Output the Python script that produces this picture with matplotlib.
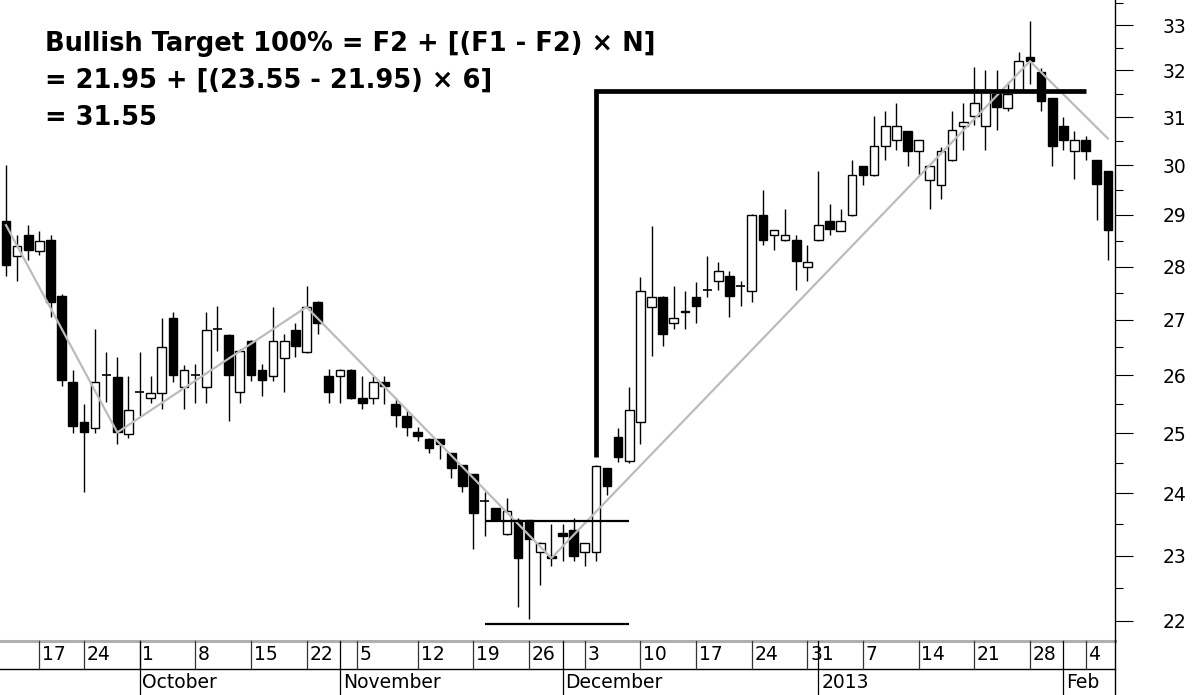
import matplotlib
matplotlib.use("Agg")
import matplotlib.pyplot as plt
from matplotlib.ticker import FixedLocator, FuncFormatter, NullFormatter
from matplotlib.transforms import blended_transform_factory

# daily candles (one entry per trading day)
opens = [28.88, 28.21, 28.61, 28.30, 28.51, 27.44, 25.89, 25.19, 25.09, 26.00,
         25.98, 24.99, 25.70, 25.60, 25.69, 27.03, 25.80, 26.00, 25.80, 26.84,
         26.73, 25.70, 26.62, 26.10, 25.99, 26.31, 26.82, 26.42, 27.33, 25.99,
         25.99, 26.10, 25.60, 25.60, 25.89, 25.50, 25.30, 25.01, 24.90, 24.90,
         24.66, 24.47, 24.31, 23.87, 23.75, 23.34, 23.56, 23.56, 23.05, 23.00,
         23.35, 23.41, 23.05, 23.05, 24.41, 24.93, 24.53, 25.19, 27.24, 27.42,
         26.94, 27.15, 27.42, 27.55, 27.73, 27.82, 27.63, 27.53, 29.00, 28.61,
         28.51, 28.51, 27.99, 28.51, 28.88, 28.69, 29.00, 29.99, 29.79, 30.40,
         30.51, 30.70, 30.29, 29.69, 29.59, 30.10, 30.81, 31.02, 30.81, 31.49,
         31.19, 31.58, 32.29, 31.97, 31.40, 30.81, 30.29, 30.51, 30.10, 29.89]
highs = [30.00, 28.61, 28.80, 28.69, 28.61, 27.49, 26.09, 25.50, 26.83, 26.42,
         26.32, 25.99, 26.42, 25.99, 27.03, 27.14, 26.19, 26.21, 27.14, 27.25,
         26.75, 26.47, 26.64, 26.20, 27.24, 26.75, 26.94, 27.64, 27.35, 26.11,
         26.12, 26.12, 25.99, 25.99, 25.99, 25.60, 25.39, 25.10, 24.92, 24.90,
         24.66, 24.47, 24.31, 24.02, 23.76, 23.92, 23.60, 23.56, 23.21, 23.50,
         23.50, 23.60, 23.20, 24.47, 24.41, 25.08, 25.80, 27.80, 28.79, 27.44,
         27.64, 27.53, 27.71, 28.21, 28.09, 27.91, 27.73, 29.02, 29.50, 28.71,
         29.11, 28.61, 28.42, 29.89, 29.21, 29.11, 30.10, 29.99, 31.02, 31.13,
         31.30, 30.70, 30.51, 29.99, 30.38, 31.13, 31.30, 32.08, 32.00, 32.00,
         31.74, 32.41, 33.10, 32.06, 31.40, 31.00, 30.70, 30.61, 30.10, 29.89]
lows = [27.82, 27.73, 28.12, 28.22, 27.06, 25.82, 25.00, 24.02, 25.00, 25.53,
        24.81, 24.92, 25.30, 25.51, 25.41, 25.88, 25.41, 25.51, 25.51, 26.43,
        25.21, 25.51, 25.91, 25.63, 25.91, 25.71, 26.32, 26.40, 26.75, 25.51,
        25.51, 25.58, 25.41, 25.50, 25.50, 25.10, 24.95, 24.86, 24.67, 24.57,
        24.24, 24.02, 23.11, 23.31, 23.54, 23.33, 22.21, 22.02, 22.54, 22.83,
        22.92, 22.92, 22.83, 22.92, 23.96, 24.52, 24.50, 24.81, 26.34, 26.53,
        26.84, 26.84, 26.95, 27.42, 27.55, 27.05, 27.25, 27.33, 28.42, 28.32,
        28.50, 27.55, 27.73, 28.49, 28.61, 28.68, 28.98, 29.60, 29.77, 30.11,
        30.31, 29.99, 29.80, 29.11, 29.31, 30.08, 30.31, 30.83, 30.31, 30.72,
        31.13, 31.56, 31.71, 31.13, 29.99, 30.31, 29.71, 30.10, 28.90, 28.13]
closes = [28.02, 28.40, 28.32, 28.50, 27.33, 25.92, 25.12, 25.01, 25.89, 26.02,
          25.01, 25.40, 25.72, 25.69, 26.51, 26.00, 26.09, 26.01, 26.82, 26.85,
          26.00, 26.43, 26.00, 25.92, 26.62, 26.62, 26.53, 27.24, 26.95, 25.71,
          26.10, 25.60, 25.51, 25.89, 25.82, 25.31, 25.10, 24.95, 24.75, 24.81,
          24.41, 24.11, 23.67, 23.86, 23.56, 23.71, 22.96, 23.26, 23.20, 22.96,
          23.30, 23.00, 23.20, 24.45, 24.11, 24.60, 25.40, 27.53, 27.42, 26.75,
          27.03, 27.17, 27.25, 27.56, 27.91, 27.44, 27.65, 29.00, 28.52, 28.71,
          28.61, 28.10, 28.09, 28.80, 28.72, 28.88, 29.79, 29.80, 30.40, 30.81,
          30.81, 30.29, 30.51, 29.99, 30.29, 30.72, 30.89, 31.30, 31.58, 31.21,
          31.49, 32.20, 32.20, 31.33, 30.40, 30.51, 30.51, 30.29, 29.61, 28.71]

# zigzag (close based) pivots
zz_idx = [0, 10, 27, 49, 92, 99]
zz_val = [28.80, 25.01, 27.24, 22.96, 32.20, 30.55]

# target projection values
f1, f2, n_mult = 23.55, 21.95, 6
target = 31.55
flag_idx = [43, 56]          # span of the F1 / F2 reference lines
break_idx, break_val = 53, 24.60
target_end_idx = 97

# date axis
day_labels = ['17', '24', '1', '8', '15', '22', '5', '12', '19', '26',
              '3', '10', '17', '24', '31', '7', '14', '21', '28', '4']
day_pos = [3, 7, 12, 17, 22, 27, 31.5, 37, 42, 47,
           52, 57, 62, 67, 72, 77, 82, 87, 92, 97]
month_labels = ['October', 'November', 'December', '2013', 'Feb']
month_pos = [12, 30, 50, 73, 95]

price_ticks = list(range(22, 34))
price_minor = [v + 0.5 for v in range(22, 34)]

W, H = 1200, 695
fig = plt.figure(figsize=(W / 100, H / 100), dpi=100)
fig.patch.set_facecolor('white')
ax = fig.add_axes([0, 54 / H, 1115 / W, 641 / H])

n = len(opens)
x = list(range(n))
body_w = 0.78

# wicks
ax.vlines(x, lows, highs, color='black', lw=1.0, zorder=2)
# bodies
for i in range(n):
    o, c = opens[i], closes[i]
    lo, hi = min(o, c), max(o, c)
    if hi - lo < 0.02:
        ax.hlines(o, i - body_w / 2, i + body_w / 2, color='black', lw=1.2, zorder=3)
    else:
        ax.bar(i, hi - lo, bottom=lo, width=body_w,
               color='white' if c > o else 'black',
               edgecolor='black', linewidth=1.0, zorder=3)

# zigzag
ax.plot(zz_idx, zz_val, color='#bcbcbc', lw=1.6, zorder=4)

# F1 / F2 lines
ax.hlines([f1, f2], flag_idx[0], flag_idx[1], color='black', lw=1.6, zorder=5)
# projection
ax.plot([break_idx, break_idx, target_end_idx], [break_val, target, target],
        color='black', lw=3.4, solid_capstyle='butt', solid_joinstyle='miter', zorder=5)

ax.set_yscale('log')
ax.set_ylim(21.70, 33.57)
ax.set_xlim(-0.54, 99.64)

ax.yaxis.tick_right()
ax.yaxis.set_major_locator(FixedLocator(price_ticks))
ax.yaxis.set_major_formatter(FuncFormatter(lambda v, p: f"{v:.0f}"))
ax.yaxis.set_minor_locator(FixedLocator(price_minor))
ax.yaxis.set_minor_formatter(NullFormatter())
ax.tick_params(axis='y', which='major', length=13, width=0.8, pad=21, labelsize=13.5)
ax.tick_params(axis='y', which='minor', length=5.8, width=0.8)
ax.set_xticks([])
for s in ['left', 'top']:
    ax.spines[s].set_visible(False)
ax.spines['right'].set_linewidth(1.0)
ax.spines['bottom'].set_visible(False)

# formula text
lines = ["Bullish Target 100% = F2 + [(F1 - F2) \u00d7 N]",
         f"= {f2:.2f} + [({f1:.2f} - {f2:.2f}) \u00d7 {n_mult}]",
         f"= {target:.2f}"]
for k, t in enumerate(lines):
    fig.text(45 / W, 1 - (51 + 37 * k) / H, t, fontsize=18.5,
             fontweight='bold', va='baseline', ha='left')

# date axis rows below the plot
tr = blended_transform_factory(ax.transData, fig.transFigure)
y_top = 1 - 641 / H
y_mid = 1 - 669 / H
xl = ax.get_xlim()
ax.plot(xl, [y_top, y_top], color='#b0b0b0', lw=2.2, transform=tr, clip_on=False)
ax.plot(xl, [y_mid, y_mid], color='black', lw=1.0, transform=tr, clip_on=False)
ax.plot([xl[1], xl[1]], [0, y_top], color='black', lw=1.0, transform=tr, clip_on=False)
for p, lab in zip(day_pos, day_labels):
    ax.plot([p, p], [y_mid, y_top], color='#333333', lw=0.9, transform=tr, clip_on=False)
    ax.text(p + 0.25, (y_top + y_mid) / 2, lab, fontsize=13.5, va='center', ha='left',
            transform=tr, clip_on=False)
for p, lab in zip(month_pos, month_labels):
    ax.plot([p, p], [0, y_top], color='black', lw=0.9, transform=tr, clip_on=False)
    ax.text(p + 0.25, y_mid / 2, lab, fontsize=13.5, va='center', ha='left',
            transform=tr, clip_on=False)

fig.savefig('out.png', dpi=100, facecolor='white')
